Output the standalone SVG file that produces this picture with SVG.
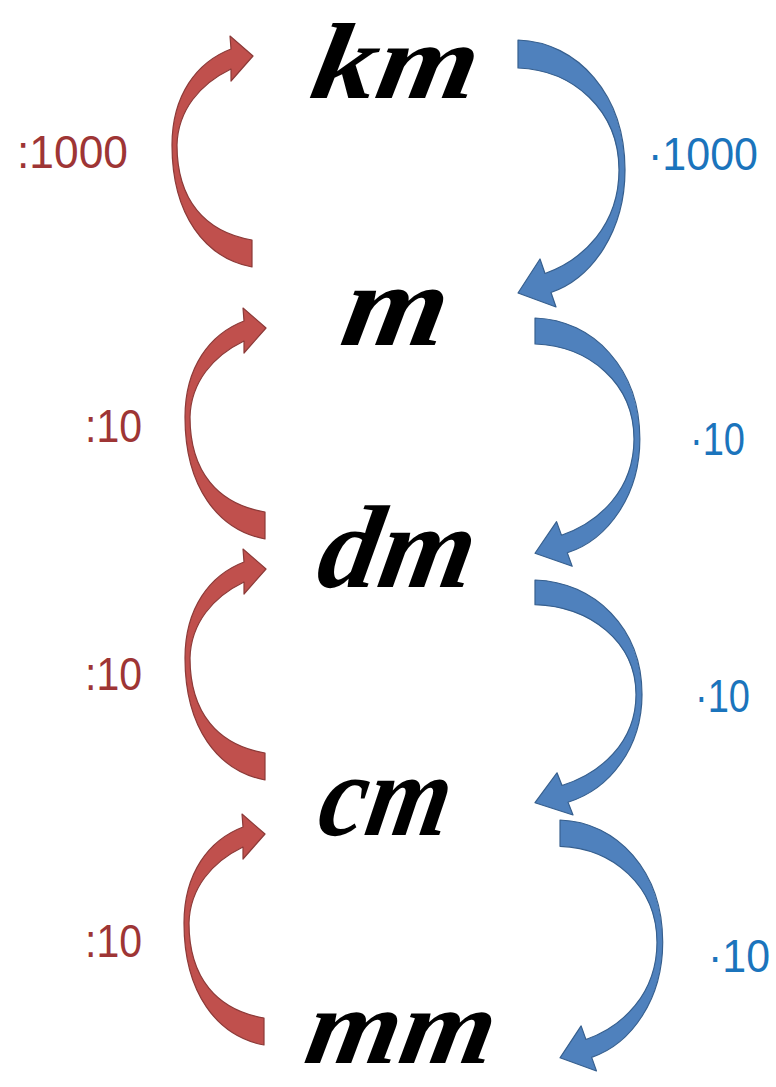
<svg xmlns="http://www.w3.org/2000/svg" xmlns:xlink="http://www.w3.org/1999/xlink" width="776" height="1087" viewBox="0 0 776 1087">
  <style>
    .unit { font-family: "Liberation Serif", serif; font-weight: bold; font-style: italic; font-size: 118px; fill: #000; }
    .div { font-family: "Liberation Sans", sans-serif; font-size: 46px; fill: #9e3535; }
    .mul { font-family: "Liberation Sans", sans-serif; font-size: 46px; fill: #1b74bc; }
    .red { fill: #c0504d; stroke: #8c3a38; stroke-width: 1.2; stroke-linejoin: round; }
    .blue { fill: #4f81bd; stroke: #365f8e; stroke-width: 1.2; stroke-linejoin: round; }
  </style>
  <defs>
    <path id="redArrow" d="M252,267 C205,258 172,215 172,145 C172,95 197,62 231,49 L230,36 L253,56 L231,81 L231,69 C200,84 178,110 177,145 C177,200 205,232 252,240 Z"/>
    <path id="blueArrow" d="M0,0 C60,2 107,55 107,130 C107,190 75,238 33,252.5 L38,267 L0,253 L22,219 L27,233.5 C65,220 101,185 101,130 C101,70 55,30 0,28 Z"/>
  </defs>
  <rect width="776" height="1087" fill="#ffffff"/>

  <g id="connectors">
    <use xlink:href="#redArrow" href="#redArrow" class="red"/>
    <use xlink:href="#redArrow" href="#redArrow" class="red" transform="translate(13,272)"/>
    <use xlink:href="#redArrow" href="#redArrow" class="red" transform="translate(13,513)"/>
    <use xlink:href="#redArrow" href="#redArrow" class="red" transform="translate(12,778)"/>
    <use xlink:href="#blueArrow" href="#blueArrow" class="blue" transform="translate(518,40)"/>
    <use xlink:href="#blueArrow" href="#blueArrow" class="blue" transform="translate(535,318) scale(0.98,0.93)"/>
    <use xlink:href="#blueArrow" href="#blueArrow" class="blue" transform="translate(535,580) scale(1,0.88)"/>
    <use xlink:href="#blueArrow" href="#blueArrow" class="blue" transform="translate(560,820) scale(0.96,0.94)"/>
  </g>

  <g id="node-km"><text class="unit" style="font-size:108px" transform="translate(308,98) skewX(-10)" textLength="165" lengthAdjust="spacingAndGlyphs">km</text></g>
  <g id="node-m"><text class="unit" transform="translate(338,345) skewX(-10)" textLength="104" lengthAdjust="spacingAndGlyphs">m</text></g>
  <g id="node-dm"><text class="unit" transform="translate(314,587) skewX(-10)" textLength="155" lengthAdjust="spacingAndGlyphs">dm</text></g>
  <g id="node-cm"><text class="unit" transform="translate(315,835) skewX(-10)" textLength="130" lengthAdjust="spacingAndGlyphs">cm</text></g>
  <g id="node-mm"><text class="unit" style="font-size:108px" transform="translate(302,1063) skewX(-10)" textLength="188" lengthAdjust="spacingAndGlyphs">mm</text></g>

  <g id="labels">
    <text class="div" x="17" y="168" textLength="111" lengthAdjust="spacingAndGlyphs">:1000</text>
    <text class="div" x="85" y="442" textLength="57" lengthAdjust="spacingAndGlyphs">:10</text>
    <text class="div" x="85" y="690" textLength="57" lengthAdjust="spacingAndGlyphs">:10</text>
    <text class="div" x="85" y="957" textLength="57" lengthAdjust="spacingAndGlyphs">:10</text>
    <text class="mul" x="648" y="170" textLength="110" lengthAdjust="spacingAndGlyphs">·1000</text>
    <text class="mul" x="690" y="455" textLength="55" lengthAdjust="spacingAndGlyphs">·10</text>
    <text class="mul" x="695" y="712" textLength="55" lengthAdjust="spacingAndGlyphs">·10</text>
    <text class="mul" x="708" y="972" textLength="62" lengthAdjust="spacingAndGlyphs">·10</text>
  </g>
</svg>
